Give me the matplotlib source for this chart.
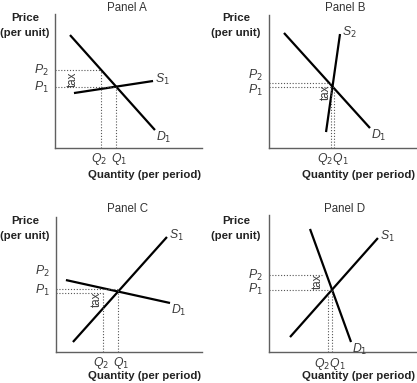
import matplotlib
matplotlib.use("Agg")
import matplotlib.pyplot as plt

plt.rcParams['font.family'] = ['Liberation Sans', 'DejaVu Sans']

W_PX, H_PX = 417, 383

# ---- data (quantity / price units on a 0-10 scale) ----
panel_titles = ["Panel A", "Panel B", "Panel C", "Panel D"]

# demand line endpoints (q, p)
demand_q = [[1.02, 6.80], [1.02, 6.87], [0.68, 7.81], [2.79, 5.58]]
demand_p = [[8.43, 1.34], [8.65, 1.50], [5.33, 3.63], [8.98, 0.73]]
# supply line endpoints
supply_q = [[1.29, 6.67], [3.88, 4.83], [1.16, 7.60], [1.43, 7.41]]
supply_p = [[4.10, 5.00], [1.20, 8.57], [0.74, 8.52], [1.09, 8.32]]
supply_names = ["S$_1$", "S$_2$", "S$_1$", "S$_1$"]

# price and quantity levels
P1 = [4.55, 4.62, 4.67, 4.53]
P2 = [5.82, 4.89, 4.37, 5.62]
Q1 = [4.15, 4.40, 4.25, 4.29]
Q2 = [3.13, 4.25, 3.22, 4.01]

# ---- layout (pixels) ----
axes_px = [  # x0, y0 (origin), width, height
    (55, 148, 147, 134),
    (269, 148, 147, 133),
    (56, 352, 146, 135),
    (269, 352, 147, 137),
]
title_px = [(127, 8), (345, 8), (128, 209), (345, 209)]
price_px = [(25, 18), (236, 18), (25, 221), (236, 221)]
qty_px = [(145, 175), (359, 175), (145, 376), (359, 376)]


def fx(x):
    return x / W_PX


def fy(y):
    return 1 - y / H_PX


fig = plt.figure(figsize=(W_PX / 100, H_PX / 100), dpi=100)
fig.patch.set_facecolor('white')

lab_col = '#3a3a3a'
dot_col = '#555555'
dot_style = (0, (1, 1.6))

for i in range(4):
    x0, y0, w, h = axes_px[i]
    ax = fig.add_axes([fx(x0), fy(y0), w / W_PX, h / H_PX])
    ax.set_xlim(0, 10)
    ax.set_ylim(0, 10)
    for s in ['top', 'right']:
        ax.spines[s].set_visible(False)
    for s in ['left', 'bottom']:
        ax.spines[s].set_color('#606060')
        ax.spines[s].set_linewidth(1.0)
    ax.set_xticks([])
    ax.set_yticks([])
    ax.patch.set_alpha(0)

    # curves
    ax.plot(demand_q[i], demand_p[i], color='black', lw=1.6, solid_capstyle='butt')
    ax.plot(supply_q[i], supply_p[i], color='black', lw=1.6, solid_capstyle='butt')

    # dotted guides
    dk = dict(color=dot_col, lw=0.8, linestyle=dot_style)
    if i == 2:
        ax.plot([0, Q1[i]], [P1[i], P1[i]], **dk)
        ax.plot([0, Q2[i]], [P2[i], P2[i]], **dk)
        ax.plot([Q2[i], Q2[i]], [0, P2[i]], **dk)
        ax.plot([Q1[i], Q1[i]], [0, P1[i]], **dk)
    elif i == 1:
        ax.plot([0, Q2[i]], [P2[i], P2[i]], **dk)
        ax.plot([0, Q1[i]], [P1[i], P1[i]], **dk)
        ax.plot([Q2[i], Q2[i]], [0, P1[i] - 0.1], **dk)
        ax.plot([Q1[i], Q1[i]], [0, P1[i] - 0.1], **dk)
    elif i == 3:
        ax.plot([0, Q2[i] - 0.4], [P2[i], P2[i]], **dk)
        ax.plot([0, Q1[i]], [P1[i], P1[i]], **dk)
        ax.plot([Q2[i], Q2[i]], [0, P1[i] - 0.3], **dk)
        ax.plot([Q1[i], Q1[i]], [0, P1[i]], **dk)
    else:
        ax.plot([0, Q2[i]], [P2[i], P2[i]], **dk)
        ax.plot([0, Q1[i]], [P1[i], P1[i]], **dk)
        ax.plot([Q2[i], Q2[i]], [0, P2[i]], **dk)
        ax.plot([Q1[i], Q1[i]], [0, P1[i]], **dk)

    tk = dict(fontsize=8.8, style='italic', color=lab_col)
    # curve labels
    ax.text(supply_q[i][1] + 0.15, supply_p[i][1] + 0.1, supply_names[i],
            ha='left', va='center', clip_on=False, **tk)
    ax.text(demand_q[i][1] + 0.1, demand_p[i][1] - 0.55, "D$_1$",
            ha='left', va='center', clip_on=False, **tk)

    # price labels
    if i == 1:
        p2y, p1y = P2[i] + 0.55, P1[i] - 0.3
    elif i == 2:
        p2y, p1y = P1[i] + 1.3, P1[i] - 0.1
    else:
        p2y, p1y = P2[i], P1[i]
    ax.text(-0.45, p2y, "P$_2$", ha='right', va='center', clip_on=False, **tk)
    ax.text(-0.45, p1y, "P$_1$", ha='right', va='center', clip_on=False, **tk)

    # quantity labels
    if i in (1, 3):
        ax.text((Q1[i] + Q2[i]) / 2, -0.85, "Q$_2$Q$_1$", ha='center', va='center',
                clip_on=False, **tk)
    else:
        ax.text(Q2[i] - 0.1, -0.85, "Q$_2$", ha='center', va='center', clip_on=False, **tk)
        ax.text(Q1[i] + 0.2, -0.85, "Q$_1$", ha='center', va='center', clip_on=False, **tk)

# tax labels (rotated)
tax_px = [(73, 79), (326, 92), (97, 299), (318, 281)]
for (tx, ty) in tax_px:
    fig.text(fx(tx), fy(ty), "tax", rotation=90, ha='center', va='center',
             fontsize=8.3, color=lab_col)

for i in range(4):
    fig.text(fx(title_px[i][0]), fy(title_px[i][1]), panel_titles[i],
             ha='center', va='center', fontsize=8.3, color='#333333')
    fig.text(fx(price_px[i][0]), fy(price_px[i][1]), "Price",
             ha='center', va='center', fontsize=8.2, fontweight='bold', color='#222222')
    fig.text(fx(price_px[i][0]), fy(price_px[i][1] + 15), "(per unit)",
             ha='center', va='center', fontsize=8.2, fontweight='bold', color='#222222')
    fig.text(fx(qty_px[i][0]), fy(qty_px[i][1]), "Quantity (per period)",
             ha='center', va='center', fontsize=8.2, fontweight='bold', color='#222222')

fig.savefig("out.png", dpi=100)
